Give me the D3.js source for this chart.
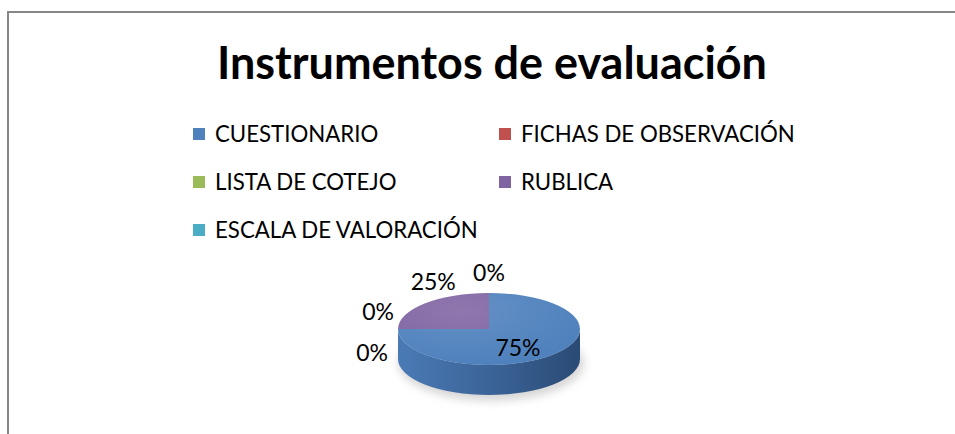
<!DOCTYPE html>
<html>
<head>
<meta charset="utf-8">
<script src="https://cdn.jsdelivr.net/npm/d3@7"></script>
<style>
  html, body { margin: 0; padding: 0; background: #fff; }
  svg { display: block; }
  text { font-family: Lato, "Open Sans", sans-serif; fill: #000; }
</style>
</head>
<body>
<svg id="chart" width="955" height="434"></svg>
<script>
const title = "Instrumentos de evaluación";
const categories = ["CUESTIONARIO", "FICHAS DE OBSERVACIÓN", "LISTA DE COTEJO", "RUBLICA", "ESCALA DE VALORACIÓN"];
const values = [75, 0, 0, 25, 0];
const colors = ["#4F81BD", "#C0504D", "#9BBB59", "#8064A2", "#4BACC6"];
const sideColors = [["#4a7ab5", "#2a4a74"], ["#a84440", "#6e2b29"], ["#89a84d", "#5a6e32"], ["#71588f", "#4a395e"], ["#42a0b8", "#2a6878"]];

const W = 955, H = 434;
const svg = d3.select("#chart");
const defs = svg.append("defs");

// frame
svg.append("rect").attr("x", 8).attr("y", 12).attr("width", 1000).attr("height", 600)
  .attr("fill", "#fff").attr("stroke", "#878787").attr("stroke-width", 2);

// title, fitted to the reference width
const t = svg.append("text").text(title)
  .attr("x", 492).attr("y", 79).attr("text-anchor", "middle")
  .style("font-weight", "bold").style("font-size", "42px");
const tw = t.node().getComputedTextLength();
t.style("font-size", (42 * 550 / tw) + "px");

// legend
const legCols = [193, 499], legRows = [134, 182, 230];
const lg = svg.append("g");
let probe = lg.append("text").text(categories[1]).style("font-size", "20px");
const legFs = 20 * 274 / probe.node().getComputedTextLength();
probe.remove();
categories.forEach((c, i) => {
  const x = legCols[i % 2], y = legRows[Math.floor(i / 2)];
  lg.append("rect").attr("x", x).attr("y", y - 6).attr("width", 12).attr("height", 12).attr("fill", colors[i]);
  lg.append("text").text(c).attr("x", x + 22).attr("y", y).attr("dy", "0.36em").style("font-size", legFs + "px");
});

// 3D pie
const cx = 489, cy = 329, rx = 91, ry = 36, depth = 30;
const pie = d3.pie().sort(null).value(d => d)(values);
const px = (a) => cx + rx * Math.sin(a);
const py = (a, dy = 0) => cy - ry * Math.cos(a) + dy;

// shadow
const blur = defs.append("filter").attr("id", "blur").attr("x", "-50%").attr("y", "-50%").attr("width", "200%").attr("height", "200%");
blur.append("feGaussianBlur").attr("stdDeviation", 4);
svg.append("ellipse").attr("cx", cx + 2).attr("cy", cy + depth + 4).attr("rx", rx + 2).attr("ry", ry + 2)
  .attr("fill", "#bbb").attr("opacity", 0.6).attr("filter", "url(#blur)");

// side faces (front half only: angles PI/2..3PI/2)
pie.forEach((d, i) => {
  const s = Math.max(d.startAngle, Math.PI / 2), e = Math.min(d.endAngle, 3 * Math.PI / 2);
  if (e <= s) return;
  const gid = "side" + i;
  const g = defs.append("linearGradient").attr("id", gid)
    .attr("gradientUnits", "userSpaceOnUse")
    .attr("x1", cx - rx).attr("y1", 0).attr("x2", cx + rx).attr("y2", 0);
  g.append("stop").attr("offset", "0%").attr("stop-color", sideColors[i][0]);
  g.append("stop").attr("offset", "55%").attr("stop-color", d3.interpolateRgb(sideColors[i][0], sideColors[i][1])(0.5));
  g.append("stop").attr("offset", "100%").attr("stop-color", sideColors[i][1]);
  const large = (e - s) > Math.PI ? 1 : 0;
  const p = `M${px(s)},${py(s)} A${rx},${ry} 0 ${large} 1 ${px(e)},${py(e)} L${px(e)},${py(e, depth)} A${rx},${ry} 0 ${large} 0 ${px(s)},${py(s, depth)} Z`;
  svg.append("path").attr("d", p).attr("fill", `url(#${gid})`);
});

// top faces
const arc = d3.arc().innerRadius(0).outerRadius(rx);
const topG = svg.append("g").attr("transform", `translate(${cx},${cy}) scale(1,${ry / rx})`);
pie.forEach((d, i) => {
  if (d.endAngle - d.startAngle <= 0) return;
  topG.append("path").attr("d", arc(d)).attr("fill", colors[i]);
});
const hl = defs.append("radialGradient").attr("id", "hl").attr("cx", "35%").attr("cy", "25%").attr("r", "75%");
hl.append("stop").attr("offset", "0%").attr("stop-color", "#fff").attr("stop-opacity", 0.12);
hl.append("stop").attr("offset", "100%").attr("stop-color", "#fff").attr("stop-opacity", 0);
topG.append("circle").attr("r", rx).attr("fill", "url(#hl)");

// labels
const total = d3.sum(values);
const fmt = v => Math.round(v / total * 100) + "%";
const labFs = 23, gap = 9;
const labels = pie.map((d, i) => {
  const a = (d.startAngle + d.endAngle) / 2;
  const txt = fmt(values[i]);
  const node = svg.append("text").text(txt).attr("text-anchor", "middle").attr("dy", "0.36em")
    .style("font-size", labFs + "px");
  if (values[i] / total > 0.5) {
    return { node, x: cx + Math.sin(a) * rx * 0.45, y: cy - Math.cos(a) * ry * 0.75 };
  }
  const bb = node.node().getBBox();
  const w = bb.width, h = bb.height * 0.8;
  const ux = Math.sin(a), uy = -Math.cos(a);
  const tt = 1 / Math.sqrt((ux * ux) / (rx * rx) + (uy * uy) / (ry * ry));
  const x = cx + ux * (tt + gap) + ux * w / 2;
  const y = cy + uy * (tt + gap) + uy * h / 2;
  return { node, x, y };
});
// spread labels that collide (same position)
labels.forEach((l, i) => {
  if (l.done) return;
  const grp = labels.filter((m, j) => j >= i && !m.done && Math.abs(m.x - l.x) < 5 && Math.abs(m.y - l.y) < 5);
  if (grp.length > 1) {
    const my = l.y;
    grp.forEach((m, k) => {
      m.y = my + 24 - k * 41;
      m.x += (k === 0 ? -1 : 5);
      m.done = true;
    });
  }
});
labels.forEach(l => l.node.attr("x", l.x).attr("y", l.y));
</script>
</body>
</html>
